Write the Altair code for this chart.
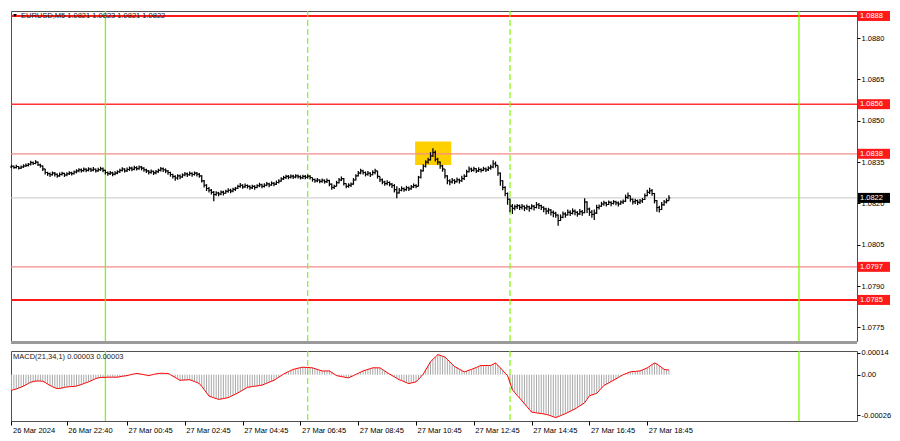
import altair as alt
import pandas as pd

# ---------------- data ----------------
START = "2024-03-26 20:45"          # time of the first M5 bar
first_open = 1.08332

bar_close = [
    1.08335,1.08330,1.08334,1.08328,1.08332,1.08336,1.08338,1.08342,1.08348,1.08345,
    1.08350,1.08340,1.08336,1.08325,1.08312,1.08308,1.08304,1.08310,1.08306,1.08300,
    1.08305,1.08309,1.08303,1.08307,1.08311,1.08308,1.08314,1.08318,1.08322,1.08319,
    1.08324,1.08320,1.08325,1.08321,1.08324,1.08318,1.08322,1.08326,1.08320,1.08312,
    1.08308,1.08311,1.08306,1.08310,1.08315,1.08320,1.08325,1.08318,1.08323,1.08328,
    1.08324,1.08330,1.08326,1.08332,1.08328,1.08322,1.08318,1.08313,1.08317,1.08311,
    1.08315,1.08320,1.08326,1.08322,1.08318,1.08312,1.08305,1.08298,1.08292,1.08300,
    1.08296,1.08303,1.08307,1.08304,1.08309,1.08305,1.08310,1.08306,1.08300,1.08282,
    1.08266,1.08254,1.08248,1.08240,1.08232,1.08238,1.08234,1.08241,1.08237,1.08244,
    1.08248,1.08245,1.08251,1.08255,1.08262,1.08266,1.08260,1.08265,1.08262,1.08257,
    1.08262,1.08258,1.08264,1.08268,1.08262,1.08266,1.08271,1.08267,1.08273,1.08270,
    1.08276,1.08281,1.08289,1.08294,1.08298,1.08295,1.08299,1.08296,1.08300,1.08297,
    1.08293,1.08298,1.08295,1.08299,1.08294,1.08287,1.08282,1.08285,1.08280,1.08284,
    1.08279,1.08283,1.08270,1.08258,1.08262,1.08275,1.08285,1.08290,1.08272,1.08262,
    1.08266,1.08270,1.08285,1.08300,1.08310,1.08318,1.08312,1.08306,1.08310,1.08304,
    1.08312,1.08318,1.08298,1.08286,1.08278,1.08272,1.08276,1.08270,1.08265,1.08250,
    1.08238,1.08248,1.08254,1.08250,1.08257,1.08253,1.08260,1.08265,1.08262,1.08295,
    1.08318,1.08335,1.08350,1.08358,1.08372,1.08385,1.08360,1.08350,1.08336,1.08325,
    1.08300,1.08282,1.08278,1.08284,1.08279,1.08286,1.08282,1.08290,1.08298,1.08315,
    1.08325,1.08320,1.08326,1.08318,1.08323,1.08320,1.08326,1.08322,1.08328,1.08332,
    1.08344,1.08338,1.08310,1.08282,1.08258,1.08236,1.08215,1.08190,1.08182,1.08188,
    1.08192,1.08186,1.08190,1.08184,1.08188,1.08182,1.08190,1.08185,1.08195,1.08192,
    1.08186,1.08180,1.08172,1.08176,1.08168,1.08164,1.08158,1.08138,1.08150,1.08162,
    1.08158,1.08168,1.08164,1.08172,1.08168,1.08162,1.08170,1.08166,1.08205,1.08180,
    1.08168,1.08160,1.08165,1.08185,1.08190,1.08198,1.08202,1.08196,1.08204,1.08200,
    1.08206,1.08202,1.08198,1.08205,1.08208,1.08222,1.08228,1.08215,1.08206,1.08210,
    1.08204,1.08209,1.08214,1.08228,1.08240,1.08246,1.08236,1.08210,1.08185,1.08178,
    1.08195,1.08205,1.08210,1.08220,
]
bar_high = [
    1.08340,1.08338,1.08340,1.08336,1.08338,1.08342,1.08345,1.08347,1.08355,1.08352,
    1.08357,1.08352,1.08344,1.08338,1.08326,1.08315,1.08312,1.08316,1.08314,1.08309,
    1.08312,1.08315,1.08311,1.08313,1.08317,1.08315,1.08319,1.08324,1.08328,1.08327,
    1.08330,1.08328,1.08331,1.08329,1.08332,1.08327,1.08329,1.08333,1.08330,1.08322,
    1.08316,1.08318,1.08315,1.08317,1.08320,1.08326,1.08331,1.08328,1.08330,1.08334,
    1.08333,1.08337,1.08335,1.08338,1.08336,1.08331,1.08326,1.08321,1.08323,1.08319,
    1.08321,1.08326,1.08332,1.08330,1.08327,1.08321,1.08315,1.08308,1.08302,1.08306,
    1.08305,1.08309,1.08314,1.08312,1.08316,1.08313,1.08316,1.08314,1.08310,1.08302,
    1.08285,1.08270,1.08260,1.08252,1.08245,1.08244,1.08242,1.08247,1.08246,1.08250,
    1.08255,1.08253,1.08257,1.08260,1.08268,1.08274,1.08270,1.08272,1.08269,1.08266,
    1.08268,1.08266,1.08270,1.08275,1.08271,1.08273,1.08278,1.08275,1.08280,1.08278,
    1.08283,1.08288,1.08295,1.08300,1.08304,1.08303,1.08305,1.08304,1.08306,1.08305,
    1.08302,1.08304,1.08303,1.08305,1.08302,1.08294,1.08290,1.08292,1.08288,1.08290,
    1.08287,1.08290,1.08286,1.08272,1.08268,1.08282,1.08292,1.08298,1.08292,1.08272,
    1.08273,1.08276,1.08292,1.08306,1.08318,1.08326,1.08322,1.08316,1.08318,1.08313,
    1.08320,1.08326,1.08318,1.08298,1.08290,1.08282,1.08284,1.08280,1.08274,1.08270,
    1.08262,1.08256,1.08262,1.08258,1.08264,1.08261,1.08267,1.08272,1.08270,1.08300,
    1.08324,1.08342,1.08357,1.08366,1.08386,1.08400,1.08392,1.08366,1.08352,1.08340,
    1.08325,1.08302,1.08288,1.08292,1.08288,1.08294,1.08290,1.08300,1.08306,1.08322,
    1.08334,1.08330,1.08333,1.08328,1.08331,1.08328,1.08333,1.08330,1.08335,1.08340,
    1.08357,1.08352,1.08338,1.08312,1.08284,1.08262,1.08240,1.08218,1.08198,1.08195,
    1.08198,1.08196,1.08198,1.08193,1.08196,1.08192,1.08197,1.08194,1.08205,1.08202,
    1.08195,1.08190,1.08184,1.08184,1.08180,1.08174,1.08170,1.08160,1.08160,1.08171,
    1.08168,1.08178,1.08175,1.08182,1.08178,1.08172,1.08180,1.08176,1.08219,1.08208,
    1.08185,1.08176,1.08178,1.08195,1.08196,1.08206,1.08210,1.08206,1.08211,1.08208,
    1.08212,1.08210,1.08207,1.08211,1.08214,1.08232,1.08240,1.08228,1.08218,1.08217,
    1.08214,1.08216,1.08220,1.08236,1.08250,1.08257,1.08252,1.08238,1.08212,1.08192,
    1.08205,1.08212,1.08218,1.08230,
]
bar_low = [
    1.08328,1.08326,1.08327,1.08323,1.08325,1.08329,1.08332,1.08334,1.08338,1.08339,
    1.08342,1.08336,1.08330,1.08318,1.08305,1.08300,1.08296,1.08301,1.08298,1.08293,
    1.08297,1.08301,1.08296,1.08299,1.08303,1.08301,1.08305,1.08309,1.08313,1.08312,
    1.08315,1.08313,1.08316,1.08314,1.08317,1.08312,1.08315,1.08318,1.08313,1.08305,
    1.08300,1.08303,1.08299,1.08302,1.08306,1.08310,1.08316,1.08312,1.08314,1.08318,
    1.08317,1.08320,1.08319,1.08322,1.08320,1.08315,1.08310,1.08305,1.08308,1.08303,
    1.08306,1.08311,1.08316,1.08314,1.08310,1.08304,1.08297,1.08290,1.08282,1.08286,
    1.08288,1.08293,1.08299,1.08296,1.08300,1.08297,1.08301,1.08298,1.08293,1.08276,
    1.08258,1.08245,1.08240,1.08232,1.08208,1.08228,1.08226,1.08230,1.08229,1.08235,
    1.08239,1.08237,1.08241,1.08245,1.08252,1.08257,1.08253,1.08256,1.08254,1.08250,
    1.08252,1.08250,1.08255,1.08259,1.08255,1.08258,1.08262,1.08259,1.08264,1.08262,
    1.08267,1.08272,1.08279,1.08285,1.08289,1.08288,1.08290,1.08289,1.08291,1.08290,
    1.08287,1.08289,1.08288,1.08290,1.08287,1.08279,1.08275,1.08277,1.08273,1.08275,
    1.08272,1.08274,1.08262,1.08250,1.08252,1.08262,1.08272,1.08281,1.08265,1.08255,
    1.08257,1.08260,1.08268,1.08283,1.08298,1.08306,1.08305,1.08298,1.08300,1.08296,
    1.08302,1.08306,1.08290,1.08278,1.08270,1.08264,1.08266,1.08262,1.08256,1.08240,
    1.08219,1.08236,1.08244,1.08242,1.08246,1.08245,1.08250,1.08256,1.08255,1.08262,
    1.08290,1.08316,1.08330,1.08344,1.08356,1.08368,1.08352,1.08340,1.08326,1.08315,
    1.08290,1.08270,1.08266,1.08272,1.08270,1.08276,1.08272,1.08278,1.08285,1.08296,
    1.08312,1.08314,1.08316,1.08310,1.08314,1.08312,1.08317,1.08314,1.08318,1.08322,
    1.08328,1.08330,1.08300,1.08264,1.08248,1.08226,1.08195,1.08168,1.08162,1.08175,
    1.08180,1.08176,1.08178,1.08172,1.08176,1.08170,1.08178,1.08174,1.08182,1.08180,
    1.08176,1.08168,1.08160,1.08162,1.08156,1.08150,1.08148,1.08119,1.08136,1.08146,
    1.08148,1.08156,1.08154,1.08160,1.08157,1.08152,1.08158,1.08155,1.08164,1.08165,
    1.08155,1.08148,1.08140,1.08162,1.08178,1.08188,1.08192,1.08189,1.08194,1.08190,
    1.08196,1.08193,1.08189,1.08195,1.08198,1.08205,1.08216,1.08206,1.08196,1.08198,
    1.08194,1.08198,1.08202,1.08212,1.08226,1.08234,1.08228,1.08200,1.08170,1.08167,
    1.08176,1.08192,1.08200,1.08210,
]
# MACD(21,34,1) main value per bar, in units of 0.00001
macd_e5 = [
    -10.0, -9.6, -9.1, -8.6, -8.0, -7.3, -6.5, -5.6, -4.9, -4.4,
    -4.1, -4.0, -4.1, -4.2, -5.0, -6.0, -6.9, -7.7, -8.4, -8.9,
    -8.8, -8.5, -8.2, -7.9, -7.7, -7.6, -7.5, -7.3, -6.8, -6.3,
    -5.7, -5.1, -4.6, -3.9, -3.2, -2.5, -2.0, -1.8, -1.7, -1.7,
    -1.6, -1.6, -1.6, -1.6, -1.6, -1.3, -1.0, -0.8, -0.6, -0.2,
    0.2, 0.5, 0.8, 0.6, 0.3, 0.0, -0.3, -0.6, -0.2, 0.2,
    0.5, 0.8, 0.9, 0.9, 0.8, 0.8, 0.0, -0.9, -1.8, -2.7,
    -3.6, -3.5, -3.4, -3.3, -3.2, -3.8, -4.4, -5.0, -5.7, -7.5,
    -9.5, -11.6, -13.7, -14.3, -14.8, -15.3, -15.8, -15.6, -15.3, -15.0,
    -14.7, -14.0, -13.2, -12.5, -11.7, -10.8, -9.9, -9.0, -8.1, -7.9,
    -7.6, -7.4, -7.2, -6.9, -6.7, -6.1, -5.5, -4.8, -4.2, -3.6,
    -2.6, -1.6, -0.6, 0.4, 1.2, 2.0, 2.7, 3.4, 3.8, 4.2,
    4.5, 4.8, 4.7, 4.6, 4.5, 4.4, 3.9, 3.4, 2.9, 2.4,
    2.4, 2.4, 2.4, 1.4, 0.4, -0.6, -0.9, -1.2, -1.5, -1.8,
    -2.0, -1.3, -0.6, 0.2, 0.9, 1.7, 2.4, 2.9, 3.4, 3.9,
    4.4, 4.4, 4.4, 4.4, 3.4, 2.4, 1.4, 0.4, -0.5, -1.4,
    -2.3, -3.2, -3.8, -4.4, -5.1, -5.7, -5.3, -5.0, -4.6, -3.0,
    -1.3, 0.4, 3.0, 5.6, 8.3, 9.8, 11.4, 12.9, 12.4, 11.8,
    11.3, 9.8, 8.3, 6.8, 5.3, 4.4, 3.5, 2.7, 1.8, 2.3,
    2.9, 3.4, 4.0, 4.6, 5.3, 5.9, 5.9, 5.9, 5.9, 5.9,
    6.7, 7.5, 6.0, 4.4, 2.7, 1.0, -0.6, -5.0, -9.7, -11.5,
    -13.3, -15.0, -16.8, -18.6, -20.4, -22.2, -24.0, -24.2, -24.5, -24.7,
    -24.9, -25.2, -25.4, -25.9, -26.4, -27.0, -27.5, -26.9, -26.3, -25.6,
    -25.0, -24.2, -23.5, -22.7, -22.0, -21.0, -20.0, -19.0, -18.0, -15.8,
    -13.5, -13.0, -12.5, -12.0, -10.3, -8.6, -6.9, -6.1, -5.3, -4.4,
    -3.6, -2.7, -1.8, -0.9, 0.0, 0.6, 1.2, 1.8, 2.0, 2.1,
    2.3, 2.4, 3.1, 3.7, 4.4, 5.4, 6.5, 7.5, 6.9, 5.7,
    4.6, 3.4, 3.2, 3.0,
]

level_prices = [1.0888, 1.0856, 1.0838, 1.0797, 1.0785]
level_texts = ["1.0888", "1.0856", "1.0838", "1.0797", "1.0785"]
current_price = 1.0822
current_text = "1.0822"

price_ticks = [1.0775, 1.0790, 1.0805, 1.0820, 1.0835, 1.0850, 1.0865, 1.0880]
macd_ticks = [0.00014, 0.0, -0.00026]
macd_tick_texts = ["0.00014", "0.00", "-0.00026"]

time_ticks = ["2024-03-26 20:45", "2024-03-26 22:40", "2024-03-27 00:45", "2024-03-27 02:45",
              "2024-03-27 04:45", "2024-03-27 06:45", "2024-03-27 08:45", "2024-03-27 10:45",
              "2024-03-27 12:45", "2024-03-27 14:45", "2024-03-27 16:45", "2024-03-27 18:45"]
time_tick_texts = ["26 Mar 2024", "26 Mar 22:40", "27 Mar 00:45", "27 Mar 02:45",
                   "27 Mar 04:45", "27 Mar 06:45", "27 Mar 08:45", "27 Mar 10:45",
                   "27 Mar 12:45", "27 Mar 14:45", "27 Mar 16:45", "27 Mar 18:45"]

day_lines = ["2024-03-27 00:00", "2024-03-28 00:00"]
session_lines = ["2024-03-27 07:00", "2024-03-27 14:00"]
signal_box_times = ["2024-03-27 10:43", "2024-03-27 11:58"]
signal_box_prices = [1.08339, 1.08425]

title_text = "EURUSD,M5  1.0821 1.0823 1.0821 1.0822"
macd_text = "MACD(21,34,1) 0.00003 0.00003"

# ---------------- styles / layout ----------------
W, H1, H2 = 846, 330, 70
FONT, FS = "Liberation Sans", 7.5
level_widths = [2, 1.6, 1.2, 1.2, 2]
level_colors = ["#ff1a1a", "#ff3333", "#f48a8a", "#f48a8a", "#ff1a1a"]
GREEN = "#7cfc00"
BOX_RED = "#ff1a1a"


def bar_index(t):
    return (pd.Timestamp(t) - pd.Timestamp(START)) / pd.Timedelta(minutes=5)


n = len(bar_close)
bars = pd.DataFrame({
    "i": list(range(n)),
    "open": [first_open] + bar_close[:-1],   # M5 FX bars open at previous close
    "high": bar_high,
    "low": bar_low,
    "close": bar_close,
})
macd_df = pd.DataFrame({"i": list(range(n)), "m": [v * 1e-5 for v in macd_e5], "zero": 0.0})

tick_idx = [int(round(bar_index(t))) for t in time_ticks]
label_expr = "[" + ",".join("'" + s + "'" for s in time_tick_texts) + "][indexof([" + \
    ",".join(str(v) for v in tick_idx) + "], datum.value)]"
macd_expr = "[" + ",".join("'" + s + "'" for s in macd_tick_texts) + "][indexof([" + \
    ",".join(repr(v) for v in macd_ticks) + "], datum.value)]"

XS = alt.Scale(domain=[-0.2, 351.1], nice=False, zero=False)
YS = alt.Scale(domain=[1.07701, 1.08898], nice=False, zero=False)
MS = alt.Scale(domain=[-0.000297, 0.000152], nice=False, zero=False)

AX_MAIN = alt.Axis(orient="right", values=price_ticks, format=".4f", tickSize=3, labelPadding=1,
                   labelOverlap=False, title=None, domain=False, grid=False)
AX_MACD = alt.Axis(orient="right", values=macd_ticks, labelExpr=macd_expr, tickSize=3, labelPadding=1,
                   labelOverlap=False, title=None, domain=False, grid=False)
AX_TIME = alt.Axis(values=tick_idx, labelExpr=label_expr, tickSize=4, labelPadding=1, labelAlign="left",
                   labelOffset=1, labelFlush=False, labelOverlap=False, title=None, domain=False, grid=False)


def xm(field="i:Q"):
    return alt.X(field, scale=XS, axis=None)


def ym(field):
    return alt.Y(field, scale=YS, axis=AX_MAIN)


# ---- main panel ----
box_df = pd.DataFrame({"x0": [bar_index(signal_box_times[0])], "x1": [bar_index(signal_box_times[1])],
                       "y0": [signal_box_prices[0]], "y1": [signal_box_prices[1]]})
box = alt.Chart(box_df).mark_rect(color="#ffd000").encode(
    x=xm("x0:Q"), x2="x1:Q", y=ym("y0:Q"), y2="y1:Q")

cur_df = pd.DataFrame({"p": [current_price], "t": [current_text]})
cur_line = alt.Chart(cur_df).mark_rule(color="#c8c8c8", strokeWidth=1).encode(y=ym("p:Q"))

lev_df = pd.DataFrame({"p": level_prices, "t": level_texts, "w": level_widths, "c": level_colors})
lev_lines = alt.Chart(lev_df).mark_rule().encode(
    y=ym("p:Q"),
    strokeWidth=alt.StrokeWidth("w:Q", scale=None, legend=None),
    color=alt.Color("c:N", scale=None, legend=None))

vsol_df = pd.DataFrame({"x": [bar_index(t) for t in day_lines]})
vdash_df = pd.DataFrame({"x": [bar_index(t) for t in session_lines]})


def vlines(xfun):
    a = alt.Chart(vsol_df).mark_rule(color=GREEN, strokeWidth=1.3).encode(x=xfun("x:Q"))
    b = alt.Chart(vdash_df).mark_rule(color=GREEN, strokeWidth=1.2, strokeDash=[6, 3]).encode(x=xfun("x:Q"))
    return a + b


hl = alt.Chart(bars).mark_rule(color="black", strokeWidth=1.25).encode(x=xm(), y=ym("low:Q"), y2="high:Q")
op = alt.Chart(bars).mark_rule(color="black", strokeWidth=1.1, xOffset=-1.4).encode(x=xm(), x2="i:Q", y=ym("open:Q"))
cl = alt.Chart(bars).mark_rule(color="black", strokeWidth=1.1, x2Offset=1.4).encode(x=xm(), x2="i:Q", y=ym("close:Q"))

lev_box = alt.Chart(lev_df).mark_tick(orient="horizontal", size=32, thickness=10, color=BOX_RED, opacity=1).encode(
    x=alt.value(W + 17), y=ym("p:Q"))
lev_txt = alt.Chart(lev_df).mark_text(align="left", baseline="middle", font=FONT, fontSize=FS, color="white").encode(
    x=alt.value(W + 3), y=ym("p:Q"), text="t:N")
cur_box = alt.Chart(cur_df).mark_tick(orient="horizontal", size=32, thickness=10, color="black", opacity=1).encode(
    x=alt.value(W + 17), y=ym("p:Q"))
cur_txt = alt.Chart(cur_df).mark_text(align="left", baseline="middle", font=FONT, fontSize=FS, color="white").encode(
    x=alt.value(W + 3), y=ym("p:Q"), text="t:N")

one = pd.DataFrame({"t": [title_text]})
tri = alt.Chart(one).mark_point(shape="triangle-down", filled=True, size=14, color="black", opacity=1).encode(
    x=alt.value(4), y=alt.value(4.5))
title = alt.Chart(one).mark_text(align="left", baseline="middle", font=FONT, fontSize=FS, color="#1a1a1a").encode(
    x=alt.value(10), y=alt.value(5), text="t:N")
sep = alt.Chart(one).mark_rule(color="#9a9a9a", strokeWidth=3).encode(
    x=alt.value(0), x2=alt.value(W), y=alt.value(H1 + 1.5))

main = alt.layer(box, cur_line, lev_lines, vlines(xm), hl, op, cl,
                 lev_box, lev_txt, cur_box, cur_txt, tri, title, sep).properties(width=W, height=H1)


# ---- MACD panel ----
def xb(field="i:Q"):
    return alt.X(field, scale=XS, axis=AX_TIME)


def yb(field):
    return alt.Y(field, scale=MS, axis=AX_MACD)


hist = alt.Chart(macd_df).mark_rule(color="#a8a8a8", strokeWidth=1).encode(x=xb(), y=yb("m:Q"), y2="zero:Q")
sig = alt.Chart(macd_df).mark_line(color="#ff0000", strokeWidth=1).encode(x=xb(), y=yb("m:Q"))
mlabel = alt.Chart(pd.DataFrame({"t": [macd_text]})).mark_text(
    align="left", baseline="middle", font=FONT, fontSize=FS, color="#1a1a1a").encode(
    x=alt.value(2), y=alt.value(5.5), text="t:N")

macd = alt.layer(vlines(xb), hist, sig, mlabel).properties(width=W, height=H2)

chart = alt.vconcat(main, macd, spacing=3).resolve_scale(y="independent").configure_view(
    stroke="#505050", strokeWidth=1
).configure_axis(
    labelFont=FONT, labelFontSize=FS, labelColor="#000000", tickColor="#000000", domain=False, grid=False
).properties(
    padding={"left": 0, "top": 1, "right": 0, "bottom": 0}, background="white"
)

chart.save("out.html", embed_options={"renderer": "svg", "actions": False})
